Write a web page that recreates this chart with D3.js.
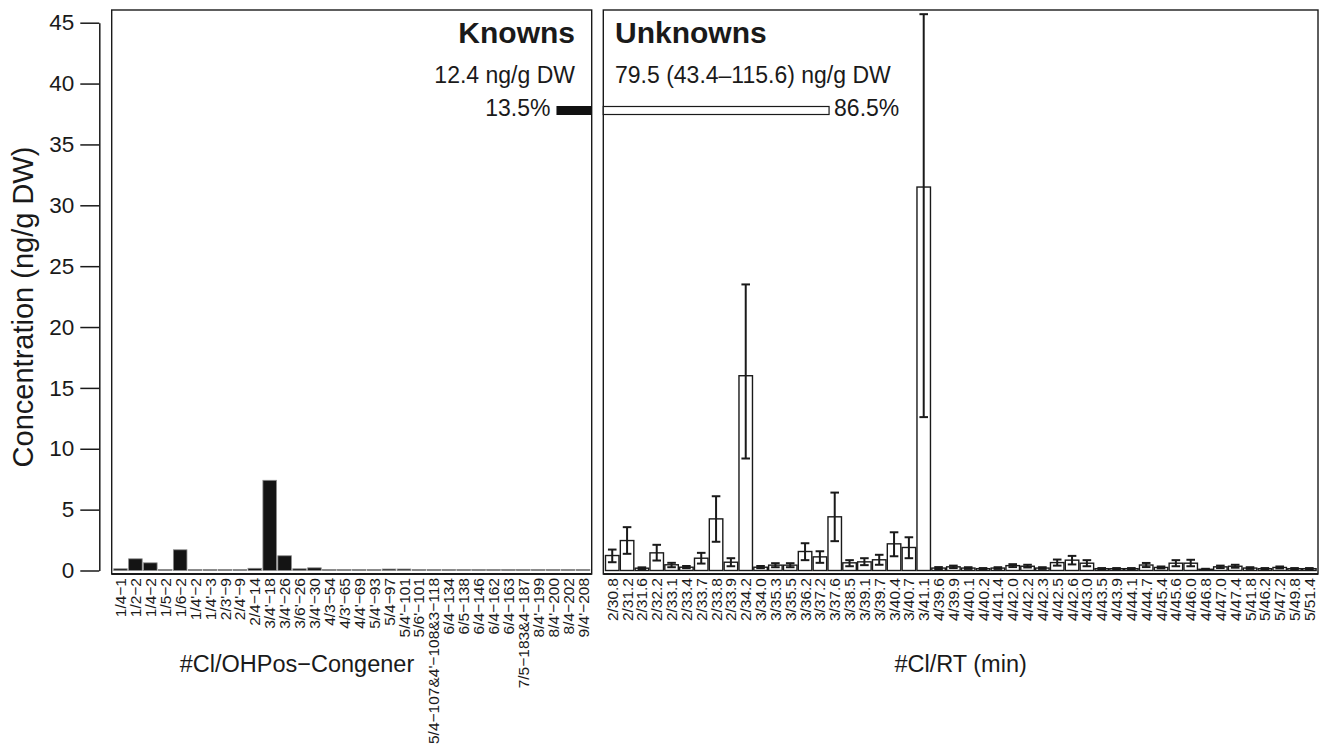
<!DOCTYPE html>
<html>
<head>
<meta charset="utf-8">
<script src="https://cdn.jsdelivr.net/npm/d3@7"></script>
<style>
body { margin: 0; background: #fff; }
svg text { font-family: "Liberation Sans", Arial, Helvetica, sans-serif; fill: #1a1a1a; }
</style>
</head>
<body>
<div id="chart"></div>
<script>
//data
var knownLabels = ["1/4−1","1/2−2","1/4−2","1/5−2","1/6−2","1/4'−2","1/4'−3","2/3'−9","2/4'−9","2/4−14",
    "3/4'−18","3/4'−26","3/6'−26","3/4'−30","4/3−54","4/3'−65","4/4'−69","5/4'−93","5/4−97","5/4'−101",
    "5/6'−101","5/4−107&4'−108&3−118","6/4−134","6/5−138","6/4−146","6/4−162","6/4−163","7/5−183&4−187",
    "8/4'−199","8/4'−200","8/4−202","9/4'−208"];
var knownValues = [0.14,0.96,0.63,0.08,1.70,0.08,0.08,0.08,0.08,0.18,
    7.41,1.21,0.14,0.22,0.08,0.08,0.08,0.08,0.12,0.12,
    0.08,0.08,0.08,0.08,0.08,0.08,0.08,0.08,0.08,0.08,0.08,0.08];

var unkLabels = ["2/30.8","2/31.2","2/31.6","2/32.2","2/33.1","2/33.4","2/33.7","2/33.8","2/33.9","2/34.2",
    "3/34.0","3/35.3","3/35.5","3/36.2","3/37.2","3/37.6","3/38.5","3/39.1","3/39.7","3/40.4","3/40.7","3/41.1",
    "4/39.6","4/39.9","4/40.1","4/40.2","4/41.4","4/42.0","4/42.2","4/42.3","4/42.5","4/42.6","4/43.0","4/43.5",
    "4/43.9","4/44.1","4/44.7","4/45.4","4/45.6","4/46.0","4/46.8","4/47.0","4/47.4",
    "5/41.8","5/46.2","5/47.2","5/49.8","5/51.4"];
var unkMean = [1.23,2.46,0.19,1.45,0.47,0.27,1.01,4.24,0.68,16.0,
    0.27,0.44,0.44,1.56,1.12,4.41,0.63,0.71,0.88,2.19,1.89,31.5,
    0.2,0.3,0.2,0.15,0.2,0.4,0.35,0.2,0.65,0.85,0.6,0.15,
    0.15,0.15,0.45,0.25,0.6,0.6,0.1,0.3,0.35,
    0.2,0.15,0.25,0.15,0.15];
var unkLow = [0.68,1.37,0.12,0.82,0.27,0.19,0.57,2.36,0.35,9.2,
    0.19,0.27,0.27,0.85,0.63,2.41,0.35,0.44,0.47,1.17,1.01,12.6,
    0.12,0.2,0.13,0.1,0.13,0.28,0.25,0.13,0.4,0.5,0.35,0.1,
    0.1,0.1,0.28,0.17,0.35,0.35,0.06,0.2,0.23,
    0.13,0.1,0.17,0.1,0.1];
var unkHigh = [1.72,3.56,0.26,2.11,0.63,0.37,1.45,6.1,1.01,23.5,
    0.37,0.6,0.6,2.24,1.58,6.4,0.85,1.01,1.29,3.14,2.73,45.7,
    0.28,0.4,0.27,0.2,0.27,0.52,0.47,0.27,0.9,1.2,0.85,0.2,
    0.2,0.2,0.62,0.33,0.85,0.88,0.14,0.4,0.47,
    0.27,0.2,0.33,0.2,0.2];

var yTicks = [0,5,10,15,20,25,30,35,40,45];
var panelTitles = ["Knowns","Unknowns"];
var panelTotals = ["12.4 ng/g DW","79.5 (43.4–115.6) ng/g DW"];
var panelShares = [13.5, 86.5];

//globals
var width = 1325;
var height = 750;
var frameTop = 10, frameBottom = 574;
var leftPanel = [111.7, 591.7];
var rightPanel = [603.3, 1318];

var svg = d3.select("#chart")
    .append("svg")
    .attr("width", width)
    .attr("height", height);

var y = d3.scaleLinear()
    .domain([0, 45])
    .range([570.5, 22.7]);

var xKnown = d3.scaleBand()
    .domain(knownLabels)
    .range([112.5, 591])
    .paddingInner(0.09)
    .paddingOuter(0.08);

var xUnk = d3.scaleBand()
    .domain(unkLabels)
    .range([604.3, 1317.3])
    .paddingInner(0.09)
    .paddingOuter(0.08);

var pct = d3.scaleLinear().domain([0, 100]).range([0, 261]);

//y axis
var yAxis = svg.append("g")
    .attr("transform", "translate(99.3,0)")
    .call(d3.axisLeft(y).tickValues(yTicks).tickSize(19).tickSizeOuter(0).tickPadding(6));
yAxis.select(".domain").attr("stroke", "#1a1a1a").attr("stroke-width", 1.5);
yAxis.selectAll(".tick line").attr("stroke", "#1a1a1a").attr("stroke-width", 1.5);
yAxis.selectAll(".tick text").style("font-size", "22.5px").attr("fill", "#1a1a1a");

svg.append("text")
    .attr("transform", "translate(33,307) rotate(-90)")
    .attr("text-anchor", "middle")
    .style("font-size", "29px")
    .text("Concentration (ng/g DW)");

//panel frames
[leftPanel, rightPanel].forEach(function(p) {
    svg.append("rect")
        .attr("x", p[0]).attr("y", frameTop)
        .attr("width", p[1] - p[0]).attr("height", frameBottom - frameTop)
        .attr("fill", "none")
        .attr("stroke", "#1a1a1a")
        .attr("stroke-width", 1.4);
});

//known bars
svg.append("g")
    .selectAll("rect")
    .data(knownValues)
    .enter()
    .append("rect")
    .attr("x", function(d, i) { return xKnown(knownLabels[i]); })
    .attr("y", function(d) { return y(d); })
    .attr("width", xKnown.bandwidth())
    .attr("height", function(d) { return y(0) - y(d); })
    .attr("fill", "#141414")
    .attr("stroke", "#8a8a8a")
    .attr("stroke-width", 0.8);

//unknown bars
var ug = svg.append("g");
ug.selectAll("rect")
    .data(unkMean)
    .enter()
    .append("rect")
    .attr("x", function(d, i) { return xUnk(unkLabels[i]); })
    .attr("y", function(d) { return y(d); })
    .attr("width", xUnk.bandwidth())
    .attr("height", function(d) { return y(0) - y(d); })
    .attr("fill", "#fff")
    .attr("stroke", "#1a1a1a")
    .attr("stroke-width", 1.4);

//error bars
var cap = 4.3;
var eg = ug.selectAll(".err")
    .data(unkMean)
    .enter()
    .append("g")
    .attr("class", "err")
    .attr("transform", function(d, i) {
        return "translate(" + (xUnk(unkLabels[i]) + xUnk.bandwidth() / 2) + ",0)";
    })
    .attr("stroke", "#1a1a1a")
    .attr("stroke-width", 2);
eg.append("line")
    .attr("y1", function(d, i) { return y(unkLow[i]); })
    .attr("y2", function(d, i) { return y(unkHigh[i]); });
eg.append("line")
    .attr("x1", -cap).attr("x2", cap)
    .attr("y1", function(d, i) { return y(unkLow[i]); })
    .attr("y2", function(d, i) { return y(unkLow[i]); });
eg.append("line")
    .attr("x1", -cap).attr("x2", cap)
    .attr("y1", function(d, i) { return y(unkHigh[i]); })
    .attr("y2", function(d, i) { return y(unkHigh[i]); });

//thicker bottom frame line
[leftPanel, rightPanel].forEach(function(p) {
    svg.append("line")
        .attr("x1", p[0]).attr("x2", p[1])
        .attr("y1", frameBottom).attr("y2", frameBottom)
        .attr("stroke", "#1a1a1a")
        .attr("stroke-width", 2.2);
});

//x axes with rotated labels
function xAxis(scale) {
    var g = svg.append("g")
        .attr("transform", "translate(0," + frameBottom + ")")
        .call(d3.axisBottom(scale).tickSize(0).tickPadding(0));
    g.select(".domain").remove();
    g.selectAll(".tick text")
        .attr("transform", "rotate(-90)")
        .attr("text-anchor", "end")
        .attr("x", -4)
        .attr("y", 0)
        .attr("dy", "0.36em")
        .attr("fill", "#1a1a1a")
        .style("font-size", "15.5px");
}
xAxis(xKnown);
xAxis(xUnk);

svg.append("text")
    .attr("x", 297).attr("y", 672)
    .attr("text-anchor", "middle")
    .style("font-size", "23.5px")
    .text("#Cl/OHPos−Congener");

svg.append("text")
    .attr("x", (rightPanel[0] + rightPanel[1]) / 2).attr("y", 672)
    .attr("text-anchor", "middle")
    .style("font-size", "23.5px")
    .text("#Cl/RT (min)");

//panel headers and share bars
svg.append("text")
    .attr("x", 575).attr("y", 43)
    .attr("text-anchor", "end")
    .style("font-size", "30px").style("font-weight", "bold")
    .text(panelTitles[0]);
svg.append("text")
    .attr("x", 615).attr("y", 43)
    .attr("text-anchor", "start")
    .style("font-size", "30px").style("font-weight", "bold")
    .text(panelTitles[1]);

svg.append("text")
    .attr("x", 575).attr("y", 83)
    .attr("text-anchor", "end")
    .style("font-size", "23px")
    .text(panelTotals[0]);
svg.append("text")
    .attr("x", 615).attr("y", 83)
    .attr("text-anchor", "start")
    .style("font-size", "23px")
    .text(panelTotals[1]);

svg.append("rect")
    .attr("x", leftPanel[1] - pct(panelShares[0])).attr("y", 106)
    .attr("width", pct(panelShares[0])).attr("height", 9)
    .attr("fill", "#111");
svg.append("rect")
    .attr("x", rightPanel[0]).attr("y", 106.5)
    .attr("width", pct(panelShares[1])).attr("height", 8)
    .attr("fill", "#fff")
    .attr("stroke", "#1a1a1a")
    .attr("stroke-width", 1.2);

svg.append("text")
    .attr("x", leftPanel[1] - pct(panelShares[0]) - 6).attr("y", 116)
    .attr("text-anchor", "end")
    .style("font-size", "23px")
    .text(panelShares[0].toFixed(1) + "%");
svg.append("text")
    .attr("x", rightPanel[0] + pct(panelShares[1]) + 5).attr("y", 116)
    .attr("text-anchor", "start")
    .style("font-size", "23px")
    .text(panelShares[1].toFixed(1) + "%");
</script>
</body>
</html>
